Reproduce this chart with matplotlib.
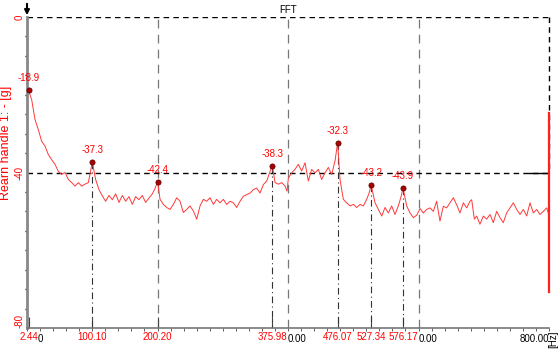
import matplotlib
matplotlib.use("Agg")
import matplotlib.pyplot as plt
import numpy as np

plt.rcParams['font.family'] = ['Liberation Sans Narrow', 'Liberation Sans', 'DejaVu Sans']

# spectrum: frequency [Hz], amplitude
freq = [2.44, 7.2, 12.3, 17.4, 22.5, 27.6, 32.7, 37.8, 42.9, 48.0, 53.1, 58.3, 63.4, 68.5,
        73.6, 78.7, 83.8, 88.9, 94.0, 100.10, 105.2, 110.3, 115.4, 120.5, 125.6, 130.7, 135.9,
        141.0, 146.1, 151.2, 156.3, 161.4, 166.5, 171.6, 176.7, 181.8, 186.9, 192.0, 195.5,
        200.20, 203.9, 209.0, 214.1, 219.2, 224.3, 229.4, 234.5, 239.6, 244.7, 249.8, 255.0,
        260.1, 265.2, 270.3, 275.4, 280.5, 285.6, 290.7, 295.8, 300.9, 306.0, 311.2, 316.3,
        321.4, 326.5, 331.6, 336.7, 341.8, 346.9, 352.0, 357.1, 362.3, 367.4, 372.5, 375.98,
        380.2, 385.3, 390.4, 395.5, 398.5, 400.6, 405.6, 410.7, 415.8, 420.9, 426.1, 431.2,
        436.3, 441.4, 446.5, 451.6, 456.7, 461.8, 466.9, 472.0, 476.07, 479.7, 484.8, 489.9,
        495.0, 500.2, 505.3, 510.4, 515.5, 520.6, 524.5, 527.34, 533.4, 538.5, 543.6, 548.7,
        553.8, 558.9, 564.0, 569.1, 573.5, 576.17, 581.9, 587.0, 592.1, 597.2, 602.4, 607.4,
        612.5, 617.6, 622.7, 627.8, 632.9, 638.0, 643.1, 648.3, 653.4, 658.5, 663.6, 668.7,
        673.8, 678.9, 681.5, 685.6, 689.1, 694.2, 699.4, 704.5, 709.6, 714.7, 719.8, 724.9,
        730.0, 735.1, 740.2, 745.3, 750.5, 755.6, 760.7, 765.8, 770.9, 776.0, 781.1, 786.2,
        791.3, 796.4, 799.0, 800.0]
amp = [-18.9, -21.3, -26.4, -29.0, -32.0, -33.2, -35.4, -36.7, -37.9, -39.7, -40.5, -40.0, -41.8, -42.6,
       -43.5, -42.6, -43.5, -43.0, -42.6, -37.3, -41.8, -44.4, -46.0, -47.4, -45.9, -47.0, -45.5,
       -47.7, -45.9, -47.4, -46.2, -48.2, -46.2, -47.0, -45.9, -47.7, -46.6, -45.5, -44.4,
       -42.4, -46.9, -48.2, -49.0, -49.5, -48.2, -46.5, -47.4, -50.3, -49.5, -48.6, -49.9,
       -52.0, -48.6, -46.9, -47.4, -46.5, -48.2, -46.9, -47.8, -46.9, -48.2, -47.4, -47.8,
       -49.0, -47.4, -46.1, -45.7, -45.3, -44.4, -44.0, -45.3, -43.1, -42.2, -39.7, -38.3,
       -42.6, -43.0, -42.6, -43.5, -44.8, -41.4, -40.1, -39.2, -37.9, -39.6, -37.5, -42.2,
       -39.2, -40.1, -39.2, -41.8, -40.1, -38.7, -40.5, -37.1, -32.3, -41.8, -46.9, -47.8,
       -48.6, -48.2, -49.0, -48.2, -48.6, -46.9, -45.2, -43.2, -47.8, -49.5, -51.2, -49.0,
       -50.4, -48.6, -50.8, -48.6, -46.1, -43.9, -48.6, -50.4, -51.6, -51.0, -49.3, -50.4,
       -49.5, -49.1, -50.0, -47.4, -52.5, -48.7, -49.1, -47.8, -46.5, -48.3, -50.4, -47.8,
       -49.1, -47.4, -47.0, -52.0, -51.2, -53.3, -51.2, -52.0, -50.8, -52.9, -50.0, -51.6,
       -52.9, -50.4, -49.1, -47.8, -49.5, -50.8, -49.5, -51.2, -47.8, -50.4, -49.5, -50.8,
       -50.0, -49.1, -50.4, -52.0]

peak_freq = [2.44, 100.10, 200.20, 375.98, 476.07, 527.34, 576.17]
peak_amp = [-18.9, -37.3, -42.4, -38.3, -32.3, -43.2, -43.9]
peak_text = ["2.44", "100.10", "200.20", "375.98", "476.07", "527.34", "576.17"]
grid_freq = [16, 400, 600, 800]
grid_text = ["0", "0.00", "0.00", "800.00"]
y_ticks = [0, -40, -80]

fig = plt.figure(figsize=(5.58, 3.52), dpi=100)
ax = fig.add_axes([27 / 558, 24 / 352, 522 / 558, 311 / 352])
ax.set_xlim(0, 800)
ax.set_ylim(-80, 0)

ax.plot(freq, amp, color='#ff3838', lw=0.7, zorder=3)

# grid
for g in [200, 400, 600]:
    ax.axvline(g, color='#777777', lw=0.9, ls=(0, (7, 5)), zorder=1)
ax.axhline(0, color='black', lw=1.0, ls=(0, (4, 3)), zorder=2)
ax.axhline(-40, color='black', lw=1.0, ls=(0, (4, 3)), zorder=2)
ax.plot([770, 800], [-40, -40], color='black', lw=1.0, zorder=2)
ax.plot([800, 800], [0, -40], color='black', lw=1.0, ls=(0, (4, 3)), zorder=2, clip_on=False)
ax.plot([800, 800], [-24.6, -70.8], color='#ff2020', lw=1.6, zorder=4, clip_on=False)

# peaks
for f, a in zip(peak_freq[1:], peak_amp[1:]):
    if f != 200.20:
        ax.plot([f, f], [a, -80], color='#333333', lw=0.8, ls=(0, (6, 3, 1, 3)), zorder=2)
ax.scatter(peak_freq, peak_amp, s=14, color='#aa0000', edgecolors='#550000', linewidths=0.5,
           zorder=5, clip_on=False)
for f, a in zip(peak_freq, peak_amp):
    ax.text(f, a + 1.8, f"{a:.1f}", color='red', fontsize=7, ha='center', va='bottom', zorder=6)

# axes look
for s in ['top', 'right']:
    ax.spines[s].set_visible(False)
ax.spines['left'].set_color('#888888')
ax.spines['left'].set_linewidth(2)
ax.spines['bottom'].set_color('#777777')
ax.spines['bottom'].set_linewidth(1.2)

ax.set_xticks(peak_freq)
ax.set_xticklabels(peak_text, color='red', fontsize=7)
ax.set_xticks(np.arange(0, 801, 20), minor=True)
ax.tick_params(axis='x', which='major', length=8, direction='in', width=0.8, color='#444444', pad=3)
ax.tick_params(axis='x', which='minor', length=2, direction='out', width=0.6, color='#444444')

for g, t in zip(grid_freq, grid_text):
    ax.text(g, -81.6, t, color='black', fontsize=7,
            ha='right' if g == 800 else 'left', va='top', clip_on=False)

ax.set_yticks(y_ticks)
ax.set_yticklabels(["0", "-40", "-80"], color='red', fontsize=7, rotation=90, va='center')
ax.set_yticks(np.arange(0, -81, -5), minor=True)
ax.tick_params(axis='y', which='major', length=0, pad=2)
ax.tick_params(axis='y', which='minor', length=1.5, direction='out', width=1, color='black')
for lbl in ax.get_yticklabels():
    if lbl.get_text() == "-80":
        lbl.set_va('bottom')

ax.set_ylabel("Rearn handle 1: - [g]", color='red', fontsize=9,
              family=['Liberation Sans', 'DejaVu Sans'])
ax.yaxis.set_label_coords(-0.029, 0.595)

fig.text(288 / 558, 1 - 10 / 352, "FFT", fontsize=7, ha='center', va='center')
fig.text(553 / 558, 4 / 352, "[Hz]", fontsize=7, rotation=90, ha='center', va='bottom')
fig.add_artist(matplotlib.patches.FancyArrowPatch((27 / 558, 1 - 1 / 352), (27 / 558, 1 - 18 / 352),
                                                  transform=fig.transFigure, arrowstyle='-|>',
                                                  mutation_scale=7, color='black', lw=1.5))

fig.savefig("out.png", dpi=100)
